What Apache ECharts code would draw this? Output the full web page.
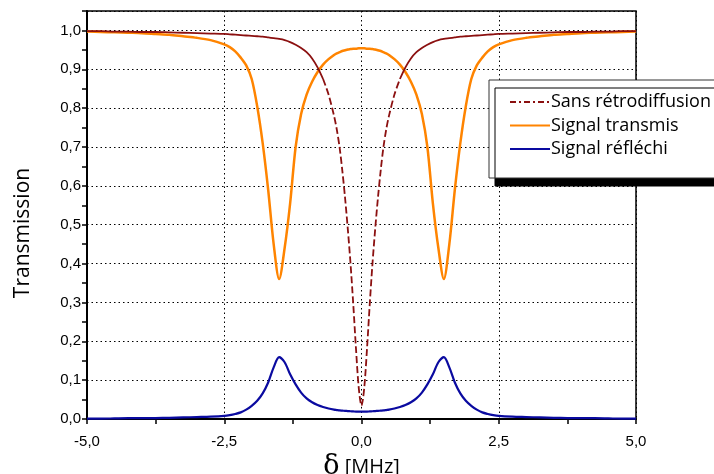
<!DOCTYPE html>
<html><head><meta charset="utf-8">
<script src="https://cdn.jsdelivr.net/npm/echarts@6/dist/echarts.min.js"></script>
<style>html,body{margin:0;padding:0;background:#fff}#c{width:714px;height:474px}</style>
</head><body><div id="c"></div>
<script>
const xs = [-5,-4.75,-4.5,-4.25,-4,-3.75,-3.5,-3.25,-3,-2.75,-2.5,-2.4,-2.3,-2.2,-2.1,-2,-1.9,-1.8,-1.7,-1.6,-1.5,-1.4,-1.3,-1.2,-1.1,-1,-0.9,-0.8,-0.7,-0.6,-0.5,-0.45,-0.4,-0.35,-0.3,-0.25,-0.2,-0.15,-0.1,-0.05,0,
  0.05,0.1,0.15,0.2,0.25,0.3,0.35,0.4,0.45,0.5,0.6,0.7,0.8,0.9,1,1.1,1.2,1.3,1.4,1.5,1.6,1.7,1.8,1.9,2,2.1,2.2,2.3,2.4,2.5,2.75,3,3.25,3.5,3.75,4,4.25,4.5,4.75,5];
const sansRetro = [0.998,0.998,0.997,0.997,0.996,0.996,0.995,0.994,0.993,0.992,0.991,0.990,0.989,0.988,0.987,0.986,0.985,0.984,0.982,0.980,0.978,0.975,0.970,0.963,0.955,0.944,0.928,0.905,0.875,0.835,0.78,0.745,0.70,0.64,0.57,0.49,0.40,0.295,0.18,0.08,0.034,
  0.08,0.18,0.295,0.40,0.49,0.57,0.64,0.70,0.745,0.78,0.835,0.875,0.905,0.928,0.944,0.955,0.963,0.970,0.975,0.978,0.980,0.982,0.984,0.985,0.986,0.987,0.988,0.989,0.990,0.991,0.992,0.993,0.994,0.995,0.996,0.996,0.997,0.997,0.998,0.998];
const transmis = [0.997,0.996,0.995,0.994,0.993,0.991,0.989,0.985,0.981,0.975,0.964,0.957,0.946,0.930,0.910,0.875,0.805,0.71,0.59,0.45,0.36,0.44,0.555,0.70,0.785,0.835,0.868,0.893,0.912,0.926,0.937,0.941,0.944,0.947,0.949,0.951,0.952,0.953,0.953,0.954,0.954,
  0.954,0.953,0.953,0.952,0.951,0.949,0.947,0.944,0.941,0.937,0.926,0.912,0.893,0.868,0.835,0.785,0.70,0.555,0.44,0.36,0.45,0.59,0.71,0.805,0.875,0.910,0.930,0.946,0.957,0.964,0.975,0.981,0.985,0.989,0.991,0.993,0.994,0.995,0.996,0.997];
const reflechi = [0.001,0.001,0.0015,0.002,0.002,0.0025,0.003,0.004,0.005,0.006,0.008,0.010,0.013,0.017,0.024,0.034,0.047,0.066,0.094,0.133,0.159,0.146,0.115,0.089,0.068,0.053,0.043,0.036,0.031,0.027,0.024,0.023,0.022,0.0215,0.021,0.0205,0.020,0.0195,0.019,0.019,0.019,
  0.019,0.019,0.0195,0.020,0.0205,0.021,0.0215,0.022,0.023,0.024,0.027,0.031,0.036,0.043,0.053,0.068,0.089,0.115,0.146,0.159,0.133,0.094,0.066,0.047,0.034,0.024,0.017,0.013,0.010,0.008,0.006,0.005,0.004,0.003,0.0025,0.002,0.002,0.0015,0.001,0.001];
const names = ['Sans rétrodiffusion','Signal transmis','Signal réfléchi'];
const xTitle = 'δ [MHz]';
const yTitle = 'Transmission';

const RED = '#8b1010', ORANGE = '#ff8400', BLUE = '#0a0aa0';
const redDashed = xs.map((x,i)=>[x, Math.abs(x) <= 0.7 ? sansRetro[i] : null]);
const redSolid = xs.map((x,i)=>[x, Math.abs(x) >= 0.7 ? sansRetro[i] : null]);
const fmt = v => { const r = Math.round(v*10)/10; if (Math.abs(r - v) > 1e-6) return ''; return r.toFixed(1).replace('.', ','); };

const chart = echarts.init(document.getElementById('c'), null, {renderer:'canvas'});
chart.setOption({
  animation:false,
  backgroundColor:'#fff',
  grid:{left:87,right:78,top:11,bottom:55,outerBoundsMode:'none',containLabel:false,show:true,borderColor:'#000',borderWidth:1.5,backgroundColor:'transparent'},
  xAxis:{type:'value',min:-5,max:5,interval:2.5,
    name:'{d|δ} [MHz]',nameLocation:'middle',nameGap:31,
    nameTextStyle:{fontFamily:'Open Sans',fontSize:20,color:'#000',rich:{d:{fontFamily:'DejaVu Serif',fontSize:27,color:'#000'}}},
    axisLine:{show:true,onZero:false,lineStyle:{color:'#000',width:2}},
    axisTick:{show:true,length:5,lineStyle:{color:'#000',width:1.5}},
    minorTick:{show:true,splitNumber:2,length:5,lineStyle:{color:'#000',width:1.5}},
    axisLabel:{formatter:v=>fmt(v),fontFamily:'Liberation Sans',fontSize:15,color:'#000',margin:15},
    splitLine:{show:true,lineStyle:{color:'#000',type:[1.5,3],width:1}}
  },
  yAxis:{type:'value',min:0,max:1.05,interval:0.1,
    name:yTitle,nameLocation:'middle',nameGap:53,
    nameTextStyle:{fontFamily:'Open Sans',fontSize:21,color:'#000',padding:[0,0,0,-36]},
    axisLine:{show:true,onZero:false,lineStyle:{color:'#000',width:2}},
    axisTick:{show:true,length:5,lineStyle:{color:'#000',width:1.5}},
    minorTick:{show:true,splitNumber:2,length:5,lineStyle:{color:'#000',width:1.5}},
    axisLabel:{formatter:v=>fmt(v),fontFamily:'Liberation Sans',fontSize:15,color:'#000',margin:6},
    splitLine:{show:true,lineStyle:{color:'#000',type:[1.5,3],width:1}}
  },
  legend:{
    left:489,top:80,orient:'vertical',
    data:[
      {name:names[0],lineStyle:{color:RED,type:[6,3,2,3],width:1.8}},
      {name:names[1]},
      {name:names[2]}
    ],
    itemWidth:40,itemHeight:14,itemGap:5.5,
    itemStyle:{opacity:0},
    padding:[13,12,20,20],
    backgroundColor:'#fff',borderColor:'#333',borderWidth:1,
    shadowColor:'#000',shadowOffsetX:6,shadowOffsetY:8,shadowBlur:0,
    textStyle:{fontFamily:'Open Sans',fontSize:18,lineHeight:18,color:'#000',padding:[0,0,0,-4]},
    selectedMode:false
  },
  series:[
    {name:names[0],type:'line',data:redDashed,symbol:'none',smooth:0.3,connectNulls:false,
      lineStyle:{color:RED,width:1.8,type:[7,3]},itemStyle:{color:RED},z:3},
    {name:names[1],type:'line',data:xs.map((x,i)=>[x,transmis[i]]),symbol:'none',smooth:0.3,
      lineStyle:{color:ORANGE,width:2.5},itemStyle:{color:ORANGE},z:2},
    {name:names[2],type:'line',data:xs.map((x,i)=>[x,reflechi[i]]),symbol:'none',smooth:0.3,
      lineStyle:{color:BLUE,width:2.2},itemStyle:{color:BLUE},z:2},
    {name:names[0],type:'line',data:redSolid,symbol:'none',smooth:0.3,connectNulls:false,
      lineStyle:{color:RED,width:1.8},itemStyle:{color:RED},z:3}
  ]
});
</script></body></html>
